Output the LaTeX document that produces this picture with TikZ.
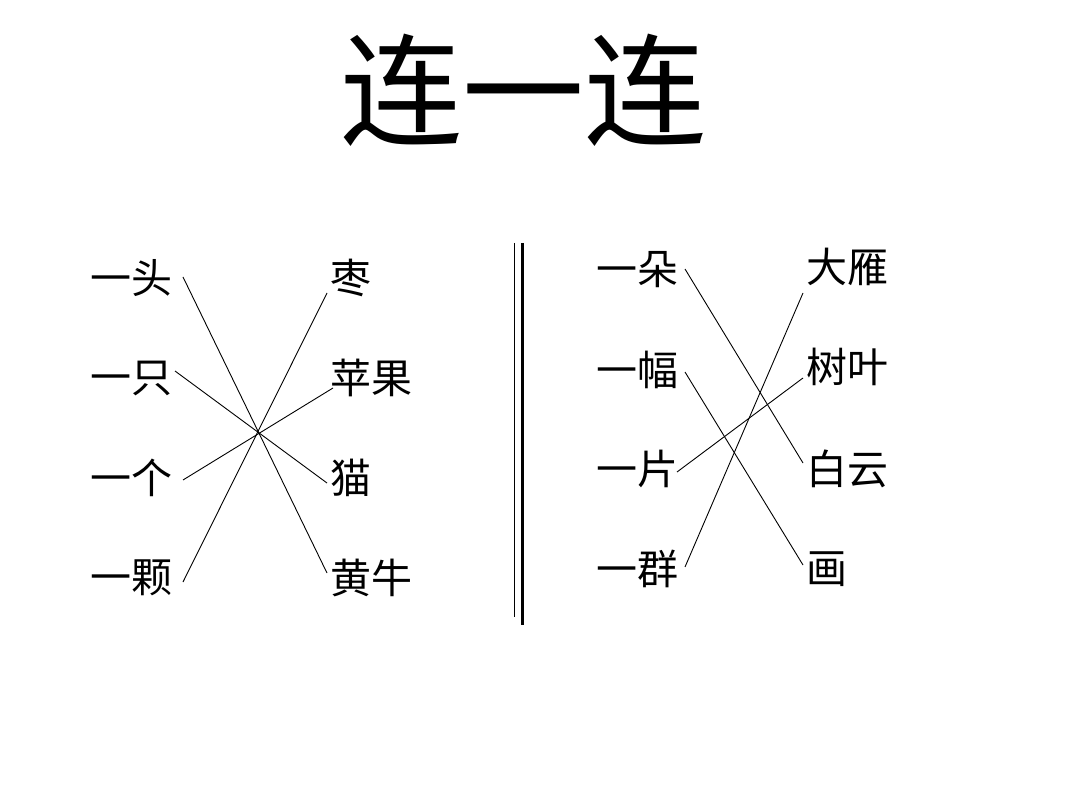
\documentclass[tikz,border=0pt]{standalone}
\usepackage{fontspec}
\newfontfamily\cjk{Noto Sans CJK SC}
\usetikzlibrary{calc}
\tikzset{
  lab/.style={inner sep=0pt, outer sep=0pt, anchor=west, font=\cjk\fontsize{41}{41}\selectfont},
  ttl/.style={inner sep=0pt, outer sep=0pt, font=\cjk\fontsize{122}{122}\selectfont},
  link/.style={draw=black, line width=0.9pt},
  sep/.style={draw=black}
}
\begin{document}
\begin{tikzpicture}[x=1pt,y=-1pt]
\useasboundingbox[fill=white] (0,0) rectangle (1080,810);
\node[ttl] (title) at (523,90) {连一连};
% left panel
\node[lab] (l1) at (90,278) {一头};
\node[lab] (l2) at (90,378) {一只};
\node[lab] (l3) at (90,478) {一个};
\node[lab] (l4) at (90,578) {一颗};
\node[lab] (r1) at (330,278) {枣};
\node[lab] (r2) at (330,378) {苹果};
\node[lab] (r3) at (330,478) {猫};
\node[lab] (r4) at (330,578) {黄牛};
\draw[link] ($(l1.west)+(93,-1)$) -- ($(r4.west)+(-3,-5)$);
\draw[link] ($(l2.west)+(85,-7)$) -- ($(r3.west)+(-3,5)$);
\draw[link] ($(l3.west)+(93,2)$) -- ($(r2.west)+(3,10)$);
\draw[link] ($(l4.west)+(93,4)$) -- ($(r1.west)+(-3,15)$);
% separator
\coordinate (s1t) at (514.5,243);
\coordinate (s1b) at (514.5,617);
\coordinate (s2t) at (522.5,243);
\coordinate (s2b) at (522.5,625);
\draw[sep, line width=1.3pt] (s1t) -- (s1b);
\draw[sep, line width=2.2pt] (s2t) -- (s2b);
% right panel
\node[lab] (p1) at (596,270) {一朵};
\node[lab] (p2) at (596,370) {一幅};
\node[lab] (p3) at (596,469) {一片};
\node[lab] (p4) at (596,569) {一群};
\node[lab] (q1) at (806,267) {大雁};
\node[lab] (q2) at (806,367) {树叶};
\node[lab] (q3) at (806,469) {白云};
\node[lab] (q4) at (806,569) {画};
\draw[link] ($(p1.west)+(89,-1)$) -- ($(q3.west)+(-3,-6)$);
\draw[link] ($(p2.west)+(89,2)$) -- ($(q4.west)+(-3,-4)$);
\draw[link] ($(p3.west)+(81,3)$) -- ($(q2.west)+(-3,11)$);
\draw[link] ($(p4.west)+(89,-2)$) -- ($(q1.west)+(-3,26)$);
\end{tikzpicture}
\end{document}
